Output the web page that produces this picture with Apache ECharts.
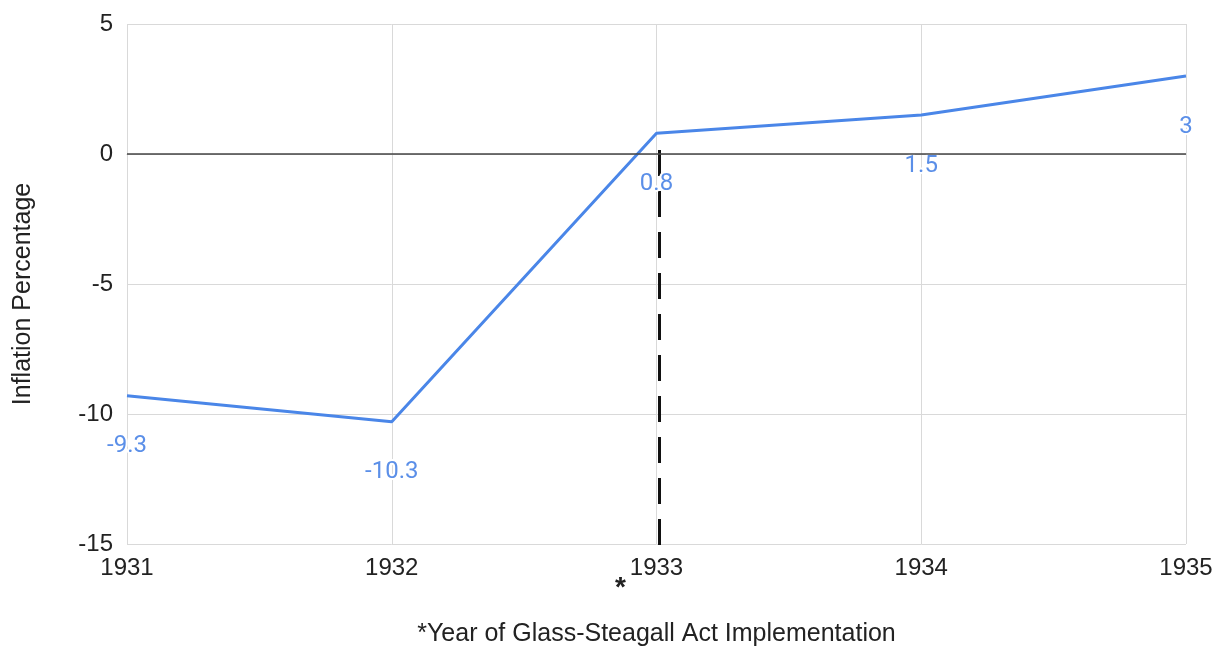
<!DOCTYPE html>
<html>
<head>
<meta charset="utf-8">
<script src="https://cdn.jsdelivr.net/npm/echarts@6/dist/echarts.min.js"></script>
<style>
  html, body { margin: 0; padding: 0; background: #fff; }
  #chart { width: 1218px; height: 648px; }
</style>
</head>
<body>
<div id="chart"></div>
<script>
// Annual inflation, 1931-1935
const years = ['1931', '1932', '1933', '1934', '1935'];
const inflation = [-9.3, -10.3, 0.8, 1.5, 3];
const yTicks = { min: -15, max: 5, step: 5 };
// Year the Glass-Steagall Act took effect, marked by a dashed rule
const actYear = '1933';
const ruleRange = [0.15, -15.25];

const FONT = '"Liberation Sans", Arial, sans-serif';
const LABEL_FONT = 'Roboto, "Liberation Sans", sans-serif';
const chart = echarts.init(document.getElementById('chart'));

chart.setOption({
  animation: false,
  textStyle: { fontFamily: FONT },
  grid: { left: 127, right: 32, top: 24, bottom: 104, containLabel: false, outerBoundsMode: 'none' },
  xAxis: {
    type: 'category',
    data: years,
    boundaryGap: false,
    name: '*Year of Glass-Steagall Act Implementation',
    nameLocation: 'middle',
    nameGap: 78,
    nameTextStyle: { fontSize: 25, color: '#222', fontFamily: FONT },
    axisLine: { lineStyle: { color: '#cccccc', width: 1 } },
    axisTick: { show: false },
    axisLabel: { fontSize: 24, color: '#222', margin: 12, fontFamily: FONT },
    splitLine: { show: true, lineStyle: { color: '#d9d9d9', width: 1 } }
  },
  yAxis: {
    type: 'value',
    min: yTicks.min,
    max: yTicks.max,
    interval: yTicks.step,
    name: 'Inflation Percentage',
    nameLocation: 'middle',
    nameGap: 91,
    nameTextStyle: { fontSize: 25, color: '#222', fontFamily: FONT, padding: [0, 20, 0, 0] },
    axisLine: { show: false },
    axisTick: { show: false },
    axisLabel: { fontSize: 24, color: '#222', margin: 14, fontFamily: FONT, padding: [4, 0, 0, 0] },
    splitLine: { show: true, lineStyle: { color: '#d9d9d9', width: 1 } }
  },
  graphic: [{
    type: 'text',
    left: 615,
    top: 574,
    style: { text: '*', fontSize: 28, fontWeight: 'bold', fill: '#222', fontFamily: FONT }
  }],
  series: [
    {
      type: 'line',
      data: inflation,
      symbol: 'circle',
      symbolSize: 1,
      showSymbol: true,
      itemStyle: { color: 'rgba(0,0,0,0)' },
      z: 3,
      lineStyle: { color: '#4a86e8', width: 3 },
      label: {
        show: true,
        position: 'bottom',
        distance: 38,
        fontSize: 24,
        color: '#5b8fe8',
        fontFamily: LABEL_FONT,
        textBorderColor: '#ffffff',
        textBorderWidth: 4
      },
      markLine: {
        silent: true,
        symbol: 'none',
        label: { show: false },
        lineStyle: { color: '#444', width: 1.5, type: 'solid' },
        data: [{ yAxis: 0 }]
      }
    },
    {
      type: 'custom',
      z: 2,
      clip: false,
      data: [[actYear, ruleRange[0], ruleRange[1]]],
      renderItem: function (params, api) {
        const top = api.coord([api.value(0), api.value(1)]);
        const bottom = api.coord([api.value(0), api.value(2)]);
        return {
          type: 'line',
          shape: { x1: top[0] + 3, y1: top[1], x2: bottom[0] + 3, y2: bottom[1] },
          style: { stroke: '#111', lineWidth: 3, lineDash: [26, 15] }
        };
      }
    }
  ]
});
</script>
</body>
</html>
